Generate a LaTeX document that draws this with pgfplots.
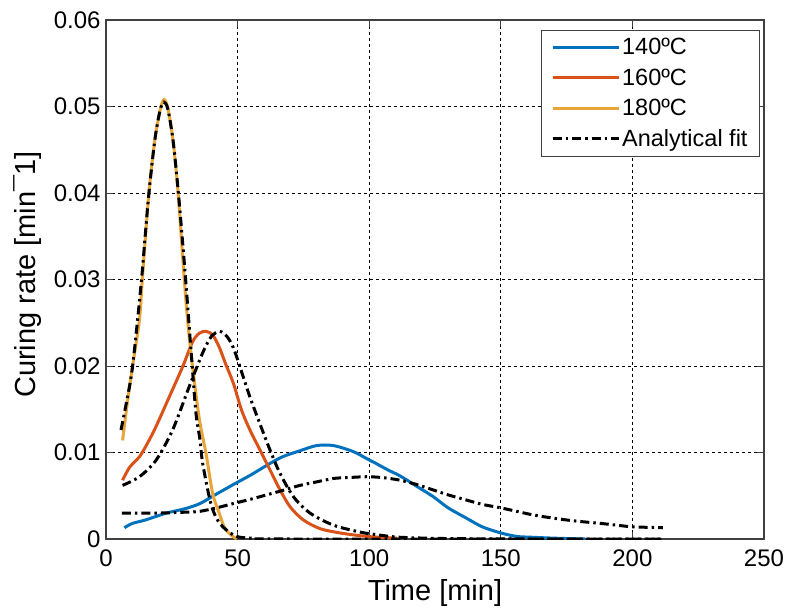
\documentclass[border=0pt]{standalone}
\usepackage{pgfplots}
\pgfplotsset{compat=1.18}
\usepackage{fontspec}
\setmainfont{Liberation Sans}
\definecolor{c140}{HTML}{0072BD}
\definecolor{c160}{HTML}{D95319}
\definecolor{c180}{HTML}{E8A53A}
\definecolor{axgray}{HTML}{404040}
\begin{document}
\begin{tikzpicture}
\useasboundingbox (-106pt,-69pt) rectangle (684pt,539pt);
\begin{axis}[
  at={(0,0)}, anchor=south west,
  scale only axis, width=658pt, height=519pt,
  xmin=0, xmax=250, ymin=0, ymax=0.06,
  xtick={0,50,100,150,200,250},
  ytick={0,0.01,0.02,0.03,0.04,0.05,0.06},
  yticklabels={0,0.01,0.02,0.03,0.04,0.05,0.06},
  scaled y ticks=false,
  tick pos=both, tick align=inside,
  major tick length=7pt,
  every tick/.style={axgray, line width=0.8pt},
  axis line style={axgray, line width=1.2pt},
  grid=major,
  major grid style={black, line width=0.7pt, dash pattern=on 3pt off 3pt},
  /pgf/number format/assume math mode=true,
  tick label style={font=\fontsize{24}{28}\selectfont},
  xticklabel style={yshift=-7pt},
  yticklabel style={xshift=-2pt},
  xlabel={Time [min]},
  ylabel={Curing rate [min¯1]},
  label style={font=\fontsize{29}{33}\selectfont},
  xlabel style={yshift=-6pt},
  ylabel style={yshift=5pt, xshift=5pt},
  legend style={at={(rel axis cs:0.994,0.981)}, anchor=north east,
    draw=axgray, line width=1pt, font=\fontsize{23.5}{26}\selectfont,
    inner xsep=10pt, inner ysep=6pt, row sep=8.5pt, cells={anchor=west}},
  legend image post style={line width=3pt},
  legend image code/.code={\draw[#1] (0pt,0pt) -- (62pt,0pt); \path (0pt,0pt) -- (66pt,0pt);},
]
\addplot[c140, line width=3pt, smooth] coordinates {
(7,0.0013) (10,0.0018) (15,0.0022) (23,0.003) (30,0.0035) (35.7,0.0041) (42,0.0052) (48.4,0.0063) (55,0.0074) (61,0.0085) (67,0.0095) (73.7,0.0102) (80,0.0108) (86.4,0.0108) (94,0.0101) (99,0.0093) (102.8,0.0087) (107,0.008) (111.7,0.0073) (118,0.0061) (124.3,0.0049) (130,0.0036) (137,0.0024) (143,0.0014) (150,0.0007) (156,0.0003) (162,0.0002) (170,0.0001) (182,0.0)};
\addlegendentry{140ºC}
\addplot[c160, line width=3pt, smooth] coordinates {
(6.3,0.0068) (9,0.0083) (12.7,0.0095) (16,0.0112) (19,0.013) (24,0.0164) (29.1,0.0199) (32.9,0.0228) (35.5,0.0238) (38,0.024) (40.5,0.0236) (43,0.0222) (45.5,0.0202) (48.4,0.018) (51.5,0.0149) (54.7,0.0126) (58.5,0.0103) (62.3,0.008) (66.1,0.0057) (70,0.0037) (75,0.0022) (81.3,0.0012) (88.9,0.0007) (99,0.0003) (110.5,0.0001)};
\addlegendentry{160ºC}
\addplot[c180, line width=3pt, smooth] coordinates {
(6.3,0.0114) (8,0.0155) (10.1,0.02) (12.7,0.0253) (13.8,0.03) (16.3,0.04) (18.5,0.046) (20.5,0.0495) (22,0.0508) (23.5,0.0498) (25.5,0.046) (27.4,0.04) (29.5,0.031) (31,0.0253) (32.9,0.0199) (35.5,0.0138) (38,0.0099) (40.5,0.0053) (43,0.003) (44.9,0.0014) (47,0.0006) (49.6,0.0)};
\addlegendentry{180ºC}
\addplot[black, line width=3pt, smooth, dash pattern=on 9pt off 4pt on 2.5pt off 4pt] coordinates {
(6,0.003) (20,0.003) (30,0.0031) (35.7,0.0032) (42,0.0036) (48.4,0.0041) (55,0.0046) (61,0.0051) (67,0.0056) (73.7,0.0062) (80,0.0066) (86.4,0.007) (92,0.0071) (99,0.0072) (105,0.0071) (111.7,0.0068) (118,0.0063) (124,0.0057) (130,0.0051) (137,0.0045) (143,0.004) (150,0.0036) (156,0.0032) (162,0.0028) (168,0.0025) (175,0.0022) (181,0.002) (188,0.0018) (194,0.0016) (200,0.0014) (206,0.00135) (211.6,0.0013)};
\addlegendentry{Analytical fit}
\addplot[black, line width=3pt, smooth, dash pattern=on 9pt off 4pt on 2.5pt off 4pt, forget plot] coordinates {
(6.3,0.0062) (12.7,0.0072) (19,0.0091) (25.3,0.0126) (31.6,0.0176) (36.7,0.0215) (40,0.0234) (43.2,0.024) (46,0.0234) (48.4,0.0221) (50.9,0.0199) (54.7,0.0164) (58.5,0.0133) (62.3,0.0103) (66.1,0.0076) (71.2,0.0049) (77.5,0.003) (86.4,0.0016) (96.5,0.0008) (102.8,0.0005) (111.7,0.0002) (130,0.00005) (160,0.0) (212,0.0)};
\addplot[black, line width=3pt, smooth, dash pattern=on 9pt off 4pt on 2.5pt off 4pt, forget plot] coordinates {
(5.7,0.0126) (8.9,0.0176) (10.5,0.021) (13.5,0.03) (16,0.039) (18.5,0.046) (20.5,0.0495) (22,0.0505) (23.5,0.0497) (25.5,0.046) (27.5,0.04) (30,0.031) (32.5,0.021) (34.2,0.0145) (35.7,0.0115) (36.7,0.0088) (39.2,0.0049) (40.8,0.0032) (43,0.0019) (45.9,0.001) (49.6,0.0003) (55,0.0001) (70,0.0) (212,0.0)};
\end{axis}
\end{tikzpicture}
\end{document}
